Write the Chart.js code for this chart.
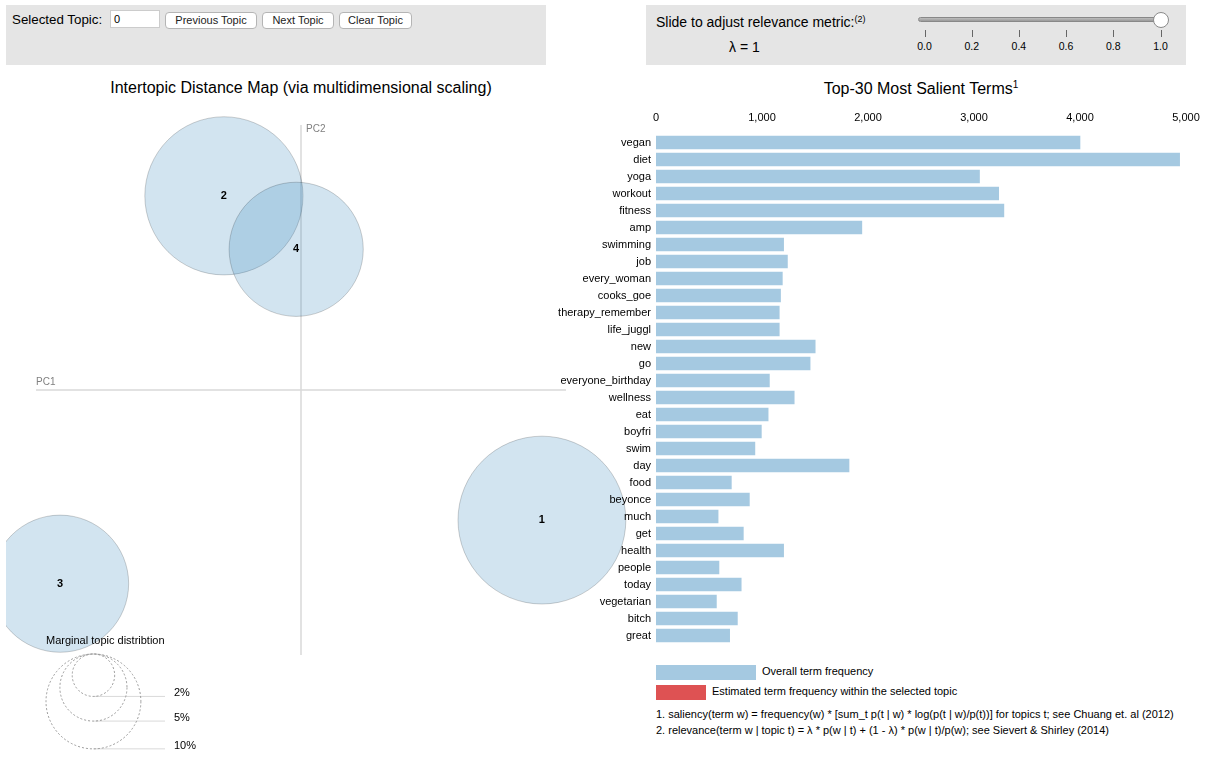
<!DOCTYPE html>
<html>
<head>
<meta charset="utf-8">
<title>LDAvis</title>
<script src="https://cdn.jsdelivr.net/npm/chart.js@4.4.1/dist/chart.umd.min.js"></script>
<style>
  body {
    margin: 0;
    width: 1214px;
    height: 771px;
    overflow: hidden;
    position: relative;
    background: #fff;
    font-family: "Liberation Sans", Arial, Helvetica, sans-serif;
    color: #000;
  }
  .panel { position: absolute; top: 5px; width: 540px; height: 60px; background: #e5e5e5; }
  .abs { position: absolute; white-space: nowrap; }
  .btn {
    position: absolute; top: 12px; height: 17px; box-sizing: border-box;
    background: #fff; border: 1px solid #b5b5b5; border-radius: 4px;
    font-size: 11px; line-height: 15px; text-align: center; color: #222;
  }
  .title { position: absolute; top: 79px; font-size: 16px; text-align: center; }
  .title sup { font-size: 10px; }
  .tick { position: absolute; top: 30px; width: 1px; height: 7px; background: #666; }
  .ticklab { position: absolute; top: 40px; width: 30px; margin-left: -15px; text-align: center; font-size: 10.5px; }
  .foot { position: absolute; left: 656px; font-size: 11px; white-space: nowrap; }
  canvas { position: absolute; }
</style>
</head>
<body>

<!-- top control panels -->
<div class="panel" style="left:6px;"></div>
<div class="abs" style="left:12px; top:12px; font-size:13.33px;">Selected Topic:</div>
<div class="abs" style="left:110px; top:10px; width:50px; height:18px; box-sizing:border-box; background:#fff; border:1px solid #ccc; font-size:11px; line-height:16px; padding-left:3px;">0</div>
<div class="btn" style="left:165px; width:92px;">Previous Topic</div>
<div class="btn" style="left:262px; width:72px;">Next Topic</div>
<div class="btn" style="left:339px; width:73px;">Clear Topic</div>

<div class="panel" style="left:646px;"></div>
<div class="abs" style="left:656px; top:14px; font-size:14px;">Slide to adjust relevance metric:<span style="font-size:9px; vertical-align:5px;">(2)</span></div>
<div class="abs" style="left:729px; top:39px; font-size:14px;">&lambda; = 1</div>
<div class="abs" style="left:918px; top:17px; width:242px; height:5px; border-radius:3px; background:linear-gradient(#bdbdbd,#9a9a9a); border:1px solid #888; box-sizing:border-box;"></div>
<div class="abs" style="left:1153px; top:12px; width:16px; height:16px; border-radius:50%; background:#fff; border:1px solid #8a8a8a; box-sizing:border-box;"></div>
<div id="slider-ticks"></div>

<!-- titles -->
<div class="title" style="left:36px; width:530px;">Intertopic Distance Map (via multidimensional scaling)</div>
<div class="title" style="left:656px; width:530px;">Top-30 Most Salient Terms<sup>1</sup></div>

<canvas id="mds" width="640" height="670" style="left:0; top:100px; z-index:1;"></canvas>
<canvas id="bars" width="674" height="560" style="left:540px; top:100px; z-index:2;"></canvas>

<!-- bar legend + footnotes -->
<div class="abs" style="left:656px; top:665px; width:100px; height:15px; background:rgba(31,119,180,0.4);"></div>
<div class="foot" style="left:762px; top:665px;">Overall term frequency</div>
<div class="abs" style="left:656px; top:685px; width:50px; height:15px; background:rgba(214,39,40,0.8);"></div>
<div class="foot" style="left:712px; top:685px;">Estimated term frequency within the selected topic</div>
<div class="foot" style="top:708px;">1. saliency(term w) = frequency(w) * [sum_t p(t | w) * log(p(t | w)/p(t))] for topics t; see Chuang et. al (2012)</div>
<div class="foot" style="top:724px;">2. relevance(term w | topic t) = &lambda; * p(w | t) + (1 - &lambda;) * p(w | t)/p(w); see Sievert &amp; Shirley (2014)</div>

<script>
// topics on the intertopic distance map
const topicIds = ['1', '2', '3', '4'];
const topicPC1 = [0.250, -0.080, -0.250, -0.005];
const topicPC2 = [-0.135, 0.2015, -0.201, 0.146];
const topicFreq = [31.3, 27.8, 20.9, 20.0];   // marginal topic distribution, %
const legendFreq = [2, 5, 10];

// top-30 salient terms
const terms = ['vegan', 'diet', 'yoga', 'workout', 'fitness', 'amp', 'swimming', 'job',
  'every_woman', 'cooks_goe', 'therapy_remember', 'life_juggl', 'new', 'go',
  'everyone_birthday', 'wellness', 'eat', 'boyfri', 'swim', 'day', 'food', 'beyonce',
  'much', 'get', 'health', 'people', 'today', 'vegetarian', 'bitch', 'great'];
const termTotals = [4003, 4943, 3055, 3236, 3285, 1945, 1207, 1243,
  1195, 1178, 1166, 1166, 1505, 1457,
  1073, 1307, 1061, 997, 936, 1824, 714, 884,
  589, 827, 1207, 597, 807, 573, 771, 698];

const sliderTicks = ['0.0', '0.2', '0.4', '0.6', '0.8', '1.0'];

const RADIUS_K = 15;   // px per sqrt(%)
const FONT = '"Liberation Sans", Arial, Helvetica, sans-serif';
const BAR_BLUE = 'rgba(31,119,180,0.4)';

// slider ticks
const tickBox = document.getElementById('slider-ticks');
sliderTicks.forEach((t, i) => {
  const x = 924.5 + i * 47.2;
  tickBox.insertAdjacentHTML('beforeend',
    '<div class="tick" style="left:' + x + 'px"></div>' +
    '<div class="ticklab" style="left:' + x + 'px">' + t + '</div>');
});

const mdsPlugin = {
  id: 'mdsDecor',
  beforeDatasetsDraw(chart) {
    const { ctx, chartArea: ca, scales } = chart;
    const x0 = scales.x.getPixelForValue(0);
    const y0 = scales.y.getPixelForValue(0);
    ctx.save();
    ctx.strokeStyle = 'rgba(128,128,128,0.3)';
    ctx.lineWidth = 1.5;
    ctx.beginPath();
    ctx.moveTo(ca.left, y0); ctx.lineTo(ca.right, y0);
    ctx.moveTo(x0, ca.top); ctx.lineTo(x0, ca.bottom);
    ctx.stroke();
    ctx.fillStyle = 'gray';
    ctx.font = '10px ' + FONT;
    ctx.textBaseline = 'alphabetic';
    ctx.fillText('PC1', ca.left, y0 - 5);
    ctx.fillText('PC2', x0 + 5, ca.top + 7);
    ctx.restore();
  },
  afterDatasetsDraw(chart) {
    const { ctx } = chart;
    ctx.save();
    ctx.fillStyle = '#000';
    ctx.font = 'bold 11px ' + FONT;
    ctx.textAlign = 'center';
    ctx.textBaseline = 'middle';
    chart.getDatasetMeta(0).data.forEach((el, i) => {
      ctx.fillText(topicIds[i], el.x, el.y);
    });
    ctx.restore();
  },
  afterDraw(chart) {
    const { ctx, chartArea: ca } = chart;
    const rMax = RADIUS_K * Math.sqrt(Math.max(...legendFreq));
    const cx = ca.left + 10 + rMax;
    const top = ca.bottom - 1;
    ctx.save();
    ctx.fillStyle = '#000';
    ctx.font = '11px ' + FONT;
    ctx.fillText('Marginal topic distribtion', ca.left + 10, top - 10);
    legendFreq.forEach(p => {
      const r = RADIUS_K * Math.sqrt(p);
      ctx.setLineDash([2, 2]);
      ctx.strokeStyle = '#999';
      ctx.lineWidth = 1;
      ctx.beginPath();
      ctx.arc(cx, top + r, r, 0, Math.PI * 2);
      ctx.stroke();
      ctx.setLineDash([]);
      ctx.strokeStyle = 'rgba(128,128,128,0.3)';
      ctx.beginPath();
      ctx.moveTo(cx, top + 2 * r);
      ctx.lineTo(ca.left + 129, top + 2 * r);
      ctx.stroke();
      ctx.fillText(p + '%', ca.left + 138, top + 2 * r);
    });
    ctx.restore();
  }
};

new Chart(document.getElementById('mds'), {
  type: 'bubble',
  data: {
    datasets: [{
      data: topicIds.map((id, i) => ({
        x: topicPC1[i],
        y: topicPC2[i],
        r: RADIUS_K * Math.sqrt(topicFreq[i])
      })),
      backgroundColor: 'rgba(31,119,180,0.2)',
      borderColor: 'rgba(0,0,0,0.18)',
      borderWidth: 1,
      clip: { left: 30, top: 30, right: 150, bottom: 30 }
    }]
  },
  options: {
    responsive: false,
    animation: false,
    events: [],
    layout: { autoPadding: false, padding: { left: 36, right: 74, top: 25, bottom: 115 } },
    plugins: { legend: { display: false }, tooltip: { enabled: false } },
    scales: {
      x: { type: 'linear', display: false, min: -0.275, max: 0.275 },
      y: { type: 'linear', display: false, min: -0.275, max: 0.275 }
    }
  },
  plugins: [mdsPlugin]
});

new Chart(document.getElementById('bars'), {
  type: 'bar',
  data: {
    labels: terms,
    datasets: [{
      data: termTotals,
      backgroundColor: BAR_BLUE,
      borderWidth: 0,
      categoryPercentage: 1,
      barPercentage: 0.8
    }]
  },
  options: {
    indexAxis: 'y',
    responsive: false,
    animation: false,
    events: [],
    layout: { padding: { right: 28, bottom: 16 } },
    plugins: { legend: { display: false }, tooltip: { enabled: false } },
    scales: {
      x: {
        position: 'top',
        min: 0,
        max: 5000,
        ticks: {
          stepSize: 1000,
          color: '#000',
          font: { size: 11, family: FONT },
          padding: 9,
          maxRotation: 0,
          callback: v => v.toLocaleString('en-US')
        },
        grid: { display: false, drawTicks: false },
        border: { display: false },
        afterFit: s => { s.height = 34; }
      },
      y: {
        ticks: { color: '#000', font: { size: 11, family: FONT }, padding: 5, autoSkip: false },
        grid: { display: false, drawTicks: false },
        border: { display: false },
        afterFit: s => { s.width = 116; }
      }
    }
  }
});
</script>
</body>
</html>
